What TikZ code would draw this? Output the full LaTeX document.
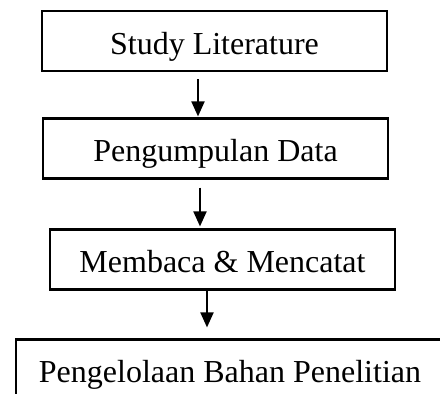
\documentclass[tikz,border=0pt]{standalone}
\usepackage{fontspec}
\setmainfont{Liberation Serif}
\usetikzlibrary{arrows.meta}
\begin{document}
\begin{tikzpicture}[x=1pt,y=-1pt,
  stepbox/.style={draw=black,line width=2.2pt,inner sep=0pt,
    minimum height=60pt,text height=26pt,text depth=0pt,
    font=\fontsize{32}{36}\selectfont},
  arr/.style={line width=2pt,-{Triangle[width=13pt,length=15pt]}}]
\useasboundingbox (0,0) rectangle (440,394);
\clip (0,0) rectangle (440,394);
\node[stepbox,minimum width=345pt] (b1) at (214.5,41) {Study Literature};
\node[stepbox,minimum width=345pt] (b2) at (215.5,148.5) {Pengumpulan Data};
\node[stepbox,minimum width=345pt] (b3) at (222.5,259.5) {Membaca \& Mencatat};
\node[stepbox,minimum width=428pt] (b4) at (230,369.5) {Pengelolaan Bahan Penelitian};
\coordinate (a1) at ([xshift=-16.5pt,yshift=-7pt]b1.south);
\coordinate (a2) at ([xshift=-15.5pt,yshift=-8pt]b2.south);
\coordinate (a3) at ([xshift=-15.5pt]b3.south);
\draw[arr,shorten >=1pt] (a1) -- (a1 |- b2.north);
\draw[arr,shorten >=2pt] (a2) -- (a2 |- b3.north);
\draw[arr,shorten >=11pt] (a3) -- (a3 |- b4.north);
\end{tikzpicture}
\end{document}
